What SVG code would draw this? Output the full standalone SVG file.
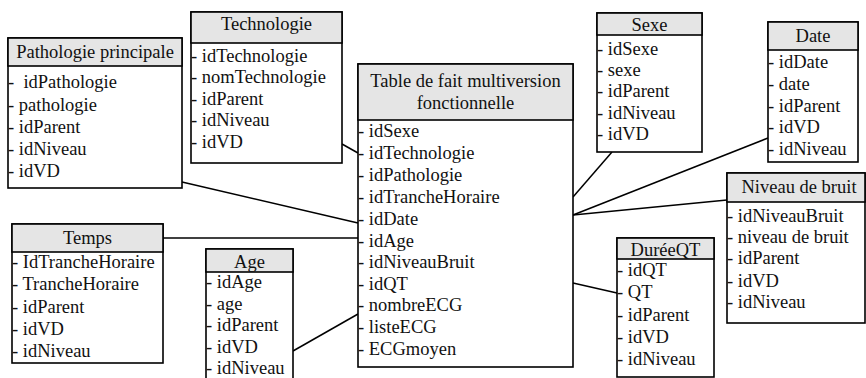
<svg xmlns="http://www.w3.org/2000/svg" width="866" height="378" viewBox="0 0 866 378">
<style>
  .box { fill: #ffffff; stroke: #000000; stroke-width: 1.6; }
  .hdr { fill: #e5e5e5; stroke: #000000; stroke-width: 1.6; }
  text { font-family: "Liberation Serif", "Times New Roman", serif; font-size: 18.5px; fill: #111111; white-space: pre; }
  .t { text-anchor: middle; }
  .conn line { stroke: #000000; stroke-width: 1.5; }
</style>
<rect x="0" y="0" width="866" height="378" fill="#ffffff"/>

<g class="conn" id="connectors">
  <line x1="182" y1="182" x2="358" y2="223"/>
  <line x1="342" y1="144" x2="358" y2="153"/>
  <line x1="163" y1="238" x2="358" y2="238"/>
  <line x1="293" y1="351" x2="358" y2="314"/>
  <line x1="612" y1="152" x2="573" y2="197"/>
  <line x1="768" y1="138" x2="573" y2="215"/>
  <line x1="727" y1="200" x2="573" y2="215"/>
  <line x1="573" y1="283" x2="617" y2="293"/>
</g>

<g id="pathologie">
  <rect class="box" x="8" y="38" width="174" height="150"/>
  <rect class="hdr" x="8" y="38" width="174" height="28"/>
  <text class="t" x="95" y="58">Pathologie principale</text>
  <text x="8" y="88">-  idPathologie</text>
  <text x="8" y="111">- pathologie</text>
  <text x="8" y="133">- idParent</text>
  <text x="8" y="155">- idNiveau</text>
  <text x="8" y="177">- idVD</text>
</g>

<g id="technologie">
  <rect class="box" x="191" y="12" width="151" height="151"/>
  <rect class="hdr" x="191" y="12" width="151" height="31"/>
  <text class="t" x="266.5" y="30">Technologie</text>
  <text x="191" y="62">- idTechnologie</text>
  <text x="191" y="83">- nomTechnologie</text>
  <text x="191" y="105">- idParent</text>
  <text x="191" y="126">- idNiveau</text>
  <text x="191" y="148">- idVD</text>
</g>

<g id="fait">
  <rect class="box" x="358" y="64" width="215" height="303"/>
  <rect class="hdr" x="358" y="64" width="215" height="56"/>
  <text class="t" x="465.5" y="87">Table de fait multiversion</text>
  <text class="t" x="465.5" y="109">fonctionnelle</text>
  <text x="358" y="137">- idSexe</text>
  <text x="358" y="159">- idTechnologie</text>
  <text x="358" y="181">- idPathologie</text>
  <text x="358" y="203">- idTrancheHoraire</text>
  <text x="358" y="225">- idDate</text>
  <text x="358" y="247">- idAge</text>
  <text x="358" y="268">- idNiveauBruit</text>
  <text x="358" y="290">- idQT</text>
  <text x="358" y="311">- nombreECG</text>
  <text x="358" y="333">- listeECG</text>
  <text x="358" y="355">- ECGmoyen</text>
</g>

<g id="sexe">
  <rect class="box" x="597" y="13" width="105" height="139"/>
  <rect class="hdr" x="597" y="13" width="105" height="22"/>
  <text class="t" x="649.5" y="31">Sexe</text>
  <text x="597" y="55">- idSexe</text>
  <text x="597" y="76">- sexe</text>
  <text x="597" y="97">- idParent</text>
  <text x="597" y="119">- idNiveau</text>
  <text x="597" y="140">- idVD</text>
</g>

<g id="date">
  <rect class="box" x="768" y="22" width="90" height="140"/>
  <rect class="hdr" x="768" y="22" width="90" height="28"/>
  <text class="t" x="813" y="42">Date</text>
  <text x="768" y="68">- idDate</text>
  <text x="768" y="90">- date</text>
  <text x="768" y="112">- idParent</text>
  <text x="768" y="133">- idVD</text>
  <text x="768" y="155">- idNiveau</text>
</g>

<g id="niveau-bruit">
  <rect class="box" x="727" y="173" width="138" height="150"/>
  <rect class="hdr" x="727" y="173" width="138" height="29"/>
  <text class="t" x="799" y="193">Niveau de bruit</text>
  <text x="727" y="222">- idNiveauBruit</text>
  <text x="727" y="243">- niveau de bruit</text>
  <text x="727" y="264">- idParent</text>
  <text x="727" y="287">- idVD</text>
  <text x="727" y="308">- idNiveau</text>
</g>

<g id="dureeqt">
  <rect class="box" x="617" y="238" width="97" height="139"/>
  <rect class="hdr" x="617" y="238" width="97" height="21"/>
  <text class="t" x="665.5" y="256">DuréeQT</text>
  <text x="617" y="276">- idQT</text>
  <text x="617" y="298">- QT</text>
  <text x="617" y="321">- idParent</text>
  <text x="617" y="343">- idVD</text>
  <text x="617" y="365">- idNiveau</text>
</g>

<g id="temps">
  <rect class="box" x="12" y="224" width="151" height="139"/>
  <rect class="hdr" x="12" y="224" width="151" height="28"/>
  <text class="t" x="87.5" y="244">Temps</text>
  <text x="12" y="268">- IdTrancheHoraire</text>
  <text x="12" y="290">- TrancheHoraire</text>
  <text x="12" y="313">- idParent</text>
  <text x="12" y="335">- idVD</text>
  <text x="12" y="357">- idNiveau</text>
</g>

<g id="age">
  <rect class="box" x="206" y="249" width="87" height="140"/>
  <rect class="hdr" x="206" y="249" width="87" height="23"/>
  <text class="t" x="249.5" y="268">Age</text>
  <text x="206" y="288">- idAge</text>
  <text x="206" y="310">- age</text>
  <text x="206" y="331">- idParent</text>
  <text x="206" y="353">- idVD</text>
  <text x="206" y="374">- idNiveau</text>
</g>
</svg>
